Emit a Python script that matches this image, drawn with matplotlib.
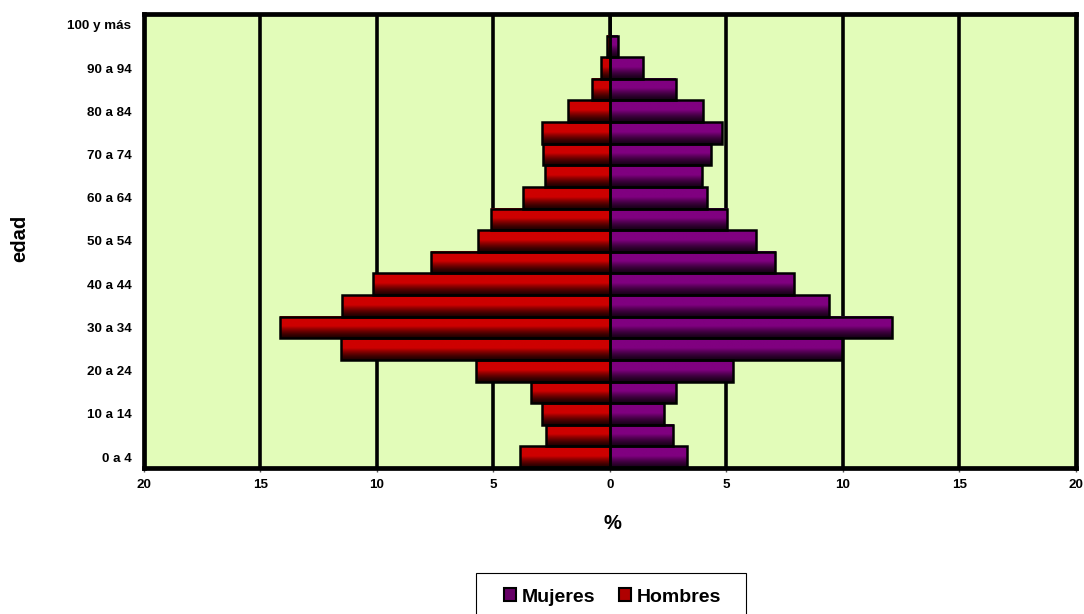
import numpy as np
import matplotlib.pyplot as plt
from matplotlib.patches import Patch, Rectangle
from matplotlib.ticker import FuncFormatter

plt.rcParams["font.family"] = ["Liberation Sans", "DejaVu Sans"]
plt.rcParams["font.weight"] = "bold"

edades = ["0 a 4", "5 a 9", "10 a 14", "15 a 19", "20 a 24", "25 a 29", "30 a 34",
          "35 a 39", "40 a 44", "45 a 49", "50 a 54", "55 a 59", "60 a 64", "65 a 69",
          "70 a 74", "75 a 79", "80 a 84", "85 a 89", "90 a 94", "95 a 99", "100 y más"]
hombres = [3.85, 2.74, 2.90, 3.39, 5.77, 11.56, 14.18, 11.51, 10.16, 7.70, 5.66,
           5.12, 3.73, 2.80, 2.86, 2.90, 1.79, 0.79, 0.39, 0.14, 0.0]
mujeres = [3.31, 2.72, 2.34, 2.82, 5.30, 9.97, 12.09, 9.38, 7.90, 7.10, 6.26,
           5.04, 4.16, 3.95, 4.33, 4.81, 4.00, 2.83, 1.43, 0.34, 0.0]
ticks_x = [-20, -15, -10, -5, 0, 5, 10, 15, 20]

rojo_claro, rojo_oscuro = np.array([206, 0, 0]) / 255, np.array([30, 0, 0]) / 255
lila_claro, lila_oscuro = np.array([128, 0, 128]) / 255, np.array([25, 0, 25]) / 255


def gradiente(claro, oscuro):
    # claro arriba, oscuro abajo (origin lower)
    t = np.linspace(0, 1, 64)
    w = np.clip(t / 0.55, 0, 1) ** 1.4
    g = oscuro[None, :] + (claro - oscuro)[None, :] * w[:, None]
    return g[:, None, :]


fig = plt.figure(figsize=(10.84, 6.14), dpi=100)
ax = fig.add_axes([0.1328, 0.2378, 0.8598, 0.7394])
ax.set_facecolor("#E2FCB9")

y = np.arange(len(edades))
izq = -np.array(hombres)
der = np.array(mujeres)

for x in ticks_x[1:-1]:
    ax.axvline(x, color="black", lw=2.6, zorder=1)

for vals, claro, oscuro in [(izq, rojo_claro, rojo_oscuro), (der, lila_claro, lila_oscuro)]:
    barras = ax.barh(y, vals, height=1.0, color=oscuro, edgecolor="none", zorder=2)
    grad = gradiente(claro, oscuro)
    for b in barras:
        x0, y0 = b.get_x(), b.get_y()
        x1, y1 = x0 + b.get_width(), y0 + b.get_height()
        if abs(x1 - x0) < 1e-9:
            continue
        ax.imshow(grad, extent=(min(x0, x1), max(x0, x1), y0, y1), origin="lower",
                  aspect="auto", zorder=2.5, interpolation="bilinear")
    ax.barh(y, vals, height=1.0, fill=False, edgecolor="black", lw=1.8, zorder=3)

ax.set_xlim(-20, 20)
ax.set_ylim(-0.5, len(edades) - 0.5)
ax.set_xticks(ticks_x)
ax.xaxis.set_major_formatter(FuncFormatter(lambda v, p: f"{abs(v):g}"))
ax.set_yticks(y[::2])
ax.set_yticklabels(edades[::2])
ax.tick_params(axis="y", length=0, pad=9, labelsize=9.6)
ax.tick_params(axis="x", length=3, width=1, color="#555555", pad=5, labelsize=9.6)
for s in ax.spines.values():
    s.set_linewidth(3.4)
    s.set_zorder(4)

ax.set_xlabel("%", fontsize=14.5, fontweight="bold")
ax.xaxis.set_label_coords(0.503, -0.123)
ax.xaxis.label.set_va("center")
fig.text(0.0185, 0.611, "edad", rotation=90, fontsize=14.5, fontweight="bold",
         ha="center", va="center")

manijas = [Patch(facecolor=lila_claro * 0.8, edgecolor="black", lw=1.5, label="Mujeres"),
           Patch(facecolor=rojo_claro * 0.85, edgecolor="black", lw=1.5, label="Hombres")]
leg = fig.legend(handles=manijas, loc="center", bbox_to_anchor=(612.5 / 1084, 1 - 597 / 614),
                 ncol=2, frameon=False, prop={"weight": "bold", "size": 14},
                 handlelength=0.62, handleheight=0.62, handletextpad=0.3,
                 columnspacing=1.2, borderpad=0.3, borderaxespad=0)
fig.patches.append(Rectangle((476 / 1084, -0.02), 270 / 1084, 0.02 + 1 - 573 / 614,
                             transform=fig.transFigure, fill=False,
                             edgecolor="black", lw=0.8))

fig.savefig("out.png", dpi=100)
